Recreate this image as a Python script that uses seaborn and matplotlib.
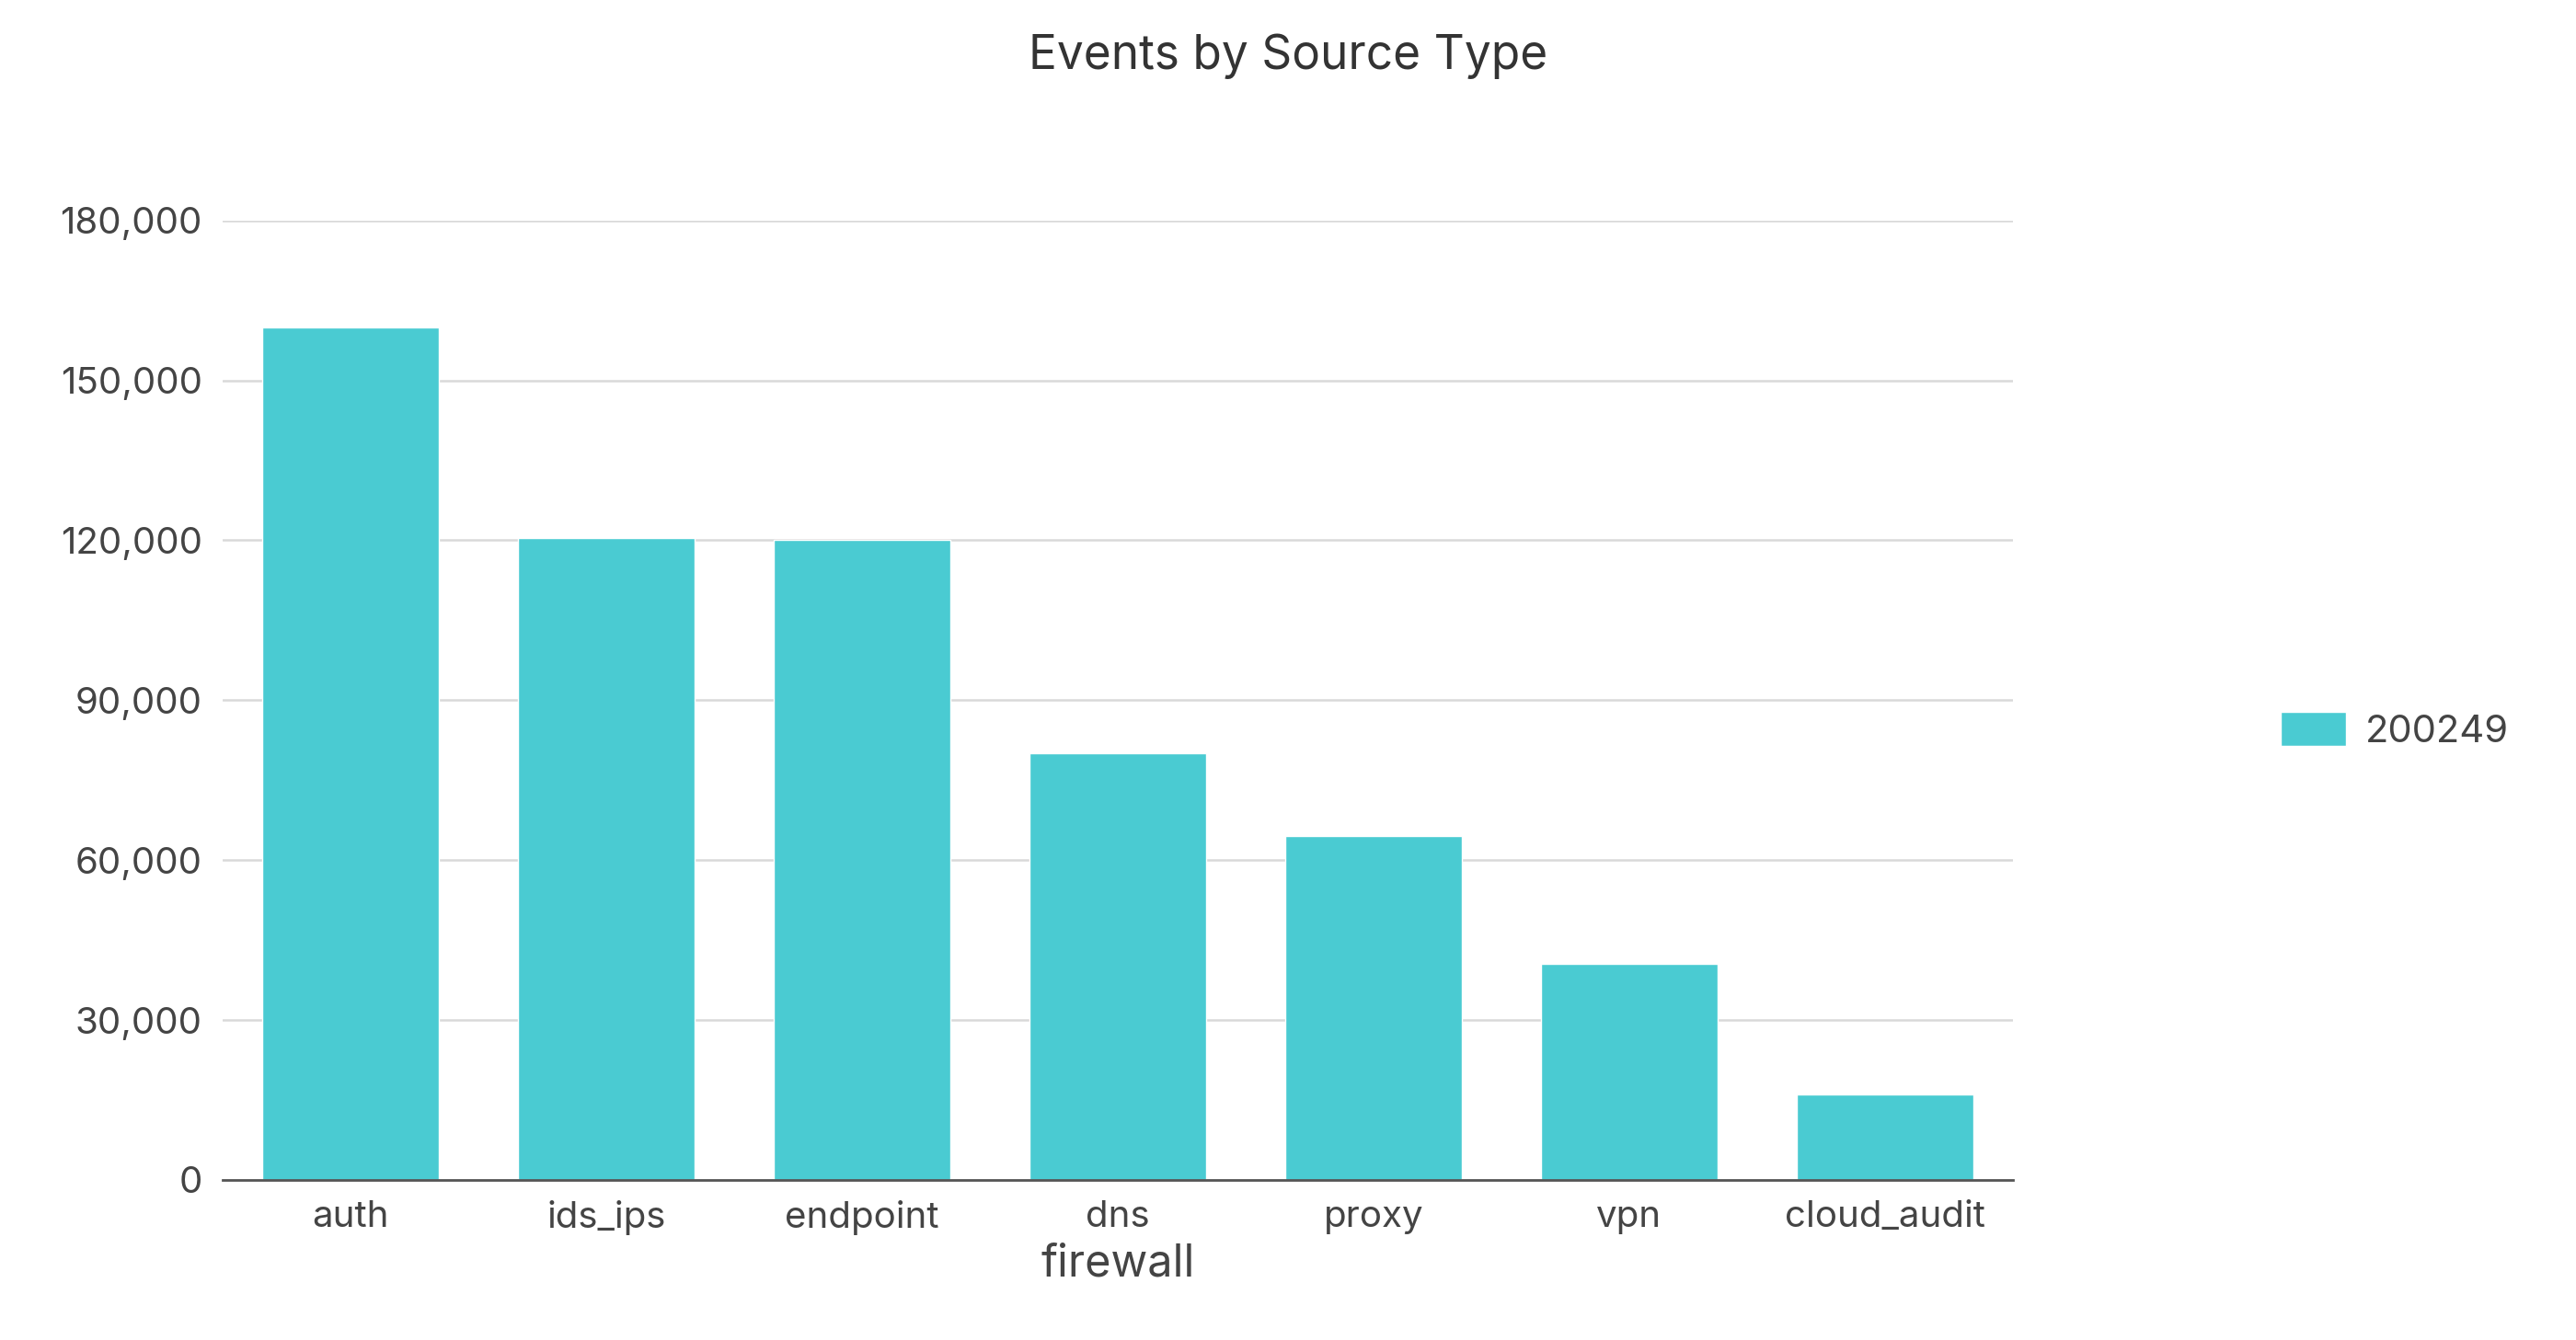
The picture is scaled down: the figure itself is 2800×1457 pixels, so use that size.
import matplotlib
matplotlib.use("Agg")
import matplotlib.pyplot as plt
import seaborn as sns
import pandas as pd
from matplotlib.ticker import FuncFormatter
from matplotlib.patches import Patch

categories = ["auth", "ids_ips", "endpoint", "dns", "proxy", "vpn", "cloud_audit"]
values = [160000, 120500, 120000, 80000, 64500, 40500, 16000]
yticks = [0, 30000, 60000, 90000, 120000, 150000, 180000]
series_name = "200249"
color = "#4ACBD2"

sns.set_theme(style="white")
plt.rcParams['font.family'] = ['Inter', 'DejaVu Sans']

df = pd.DataFrame({"firewall": categories, "value": values})
fig = plt.figure(figsize=(28, 14.57), dpi=100)
ax = fig.add_axes([0.0864, 0.1195, 0.695, 0.716])
sns.barplot(data=df, x="firewall", y="value", color=color, width=0.69, ax=ax, saturation=1)
ax.set_ylim(0, 180000)
ax.set_yticks(yticks)
ax.yaxis.set_major_formatter(FuncFormatter(lambda v, p: f"{int(v):,}"))
ax.grid(axis="y", color="#d9d9d9", linewidth=1.8)
ax.set_axisbelow(True)
for s in ["top", "right", "left"]:
    ax.spines[s].set_visible(False)
ax.spines["bottom"].set_color("#555555")
ax.spines["bottom"].set_linewidth(2)
ax.tick_params(axis="both", labelsize=29, colors="#444444", length=0, pad=16)
ax.set_ylabel("")
ax.set_xlabel("firewall", fontsize=35, color="#444444", labelpad=6)
ax.set_xlim(-0.5, 6.5)
fig.suptitle("Events by Source Type", fontsize=37, color="#333333", y=0.975)
fig.legend(handles=[Patch(facecolor=color, label=series_name)], loc="center left",
           bbox_to_anchor=(0.872, 0.455), frameon=False, fontsize=30,
           handlelength=1.7, handleheight=1.0, handletextpad=0.5, labelcolor="#444444")
fig.savefig("out.png")
